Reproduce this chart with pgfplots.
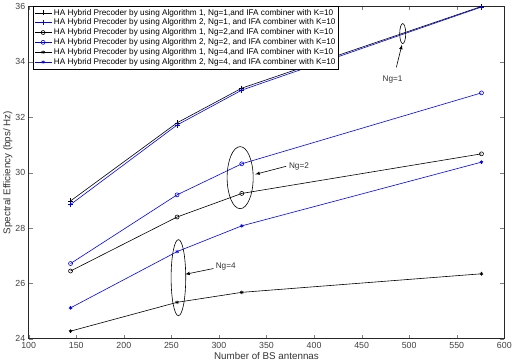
\documentclass[border=0pt]{standalone}
\usepackage{fontspec}
\setmainfont{Liberation Sans}
\usepackage{pgfplots}
\pgfplotsset{compat=1.18}
\begin{document}
\begin{tikzpicture}
\begin{axis}[
  scale only axis, width=475pt, height=332pt,
  xmin=100, xmax=600, ymin=24, ymax=36,
  xtick={100,150,...,600}, ytick={24,26,...,36},
  tick align=inside, tick pos=both,
  major tick length=4pt,
  /pgf/number format/assume math mode=true,
  /pgf/number format/set thousands separator={},
  ticklabel style={font=\fontsize{8.8}{9}\selectfont, text=black!75},
  label style={font=\fontsize{9.8}{10}\selectfont, text=black!80},
  xlabel={Number of BS antennas},
  ylabel={Spectral Efficiency (bps/ Hz)},
  xlabel style={yshift=3pt},
  ylabel style={yshift=-4pt},
  axis line style={line width=0.8pt, black!85},
  every axis plot/.append style={line width=0.6pt},
  legend style={at={(rel axis cs:0.009,1.002)}, anchor=north west,
    font=\fontsize{8.2}{9}\selectfont, draw=black, line width=0.6pt,
    inner sep=1pt, row sep=-1.6pt},
  legend cell align=left,
  clip=false,
]
\addplot[black, mark=+, mark size=2.5pt] coordinates {(144,28.98) (256,31.80) (324,33.05) (576,36.00)};
\addlegendentry{HA Hybrid Precoder by using Algorithm 1, Ng=1,and IFA combiner with K=10}
\addplot[blue, mark=+, mark size=2.5pt] coordinates {(144,28.85) (256,31.72) (324,32.98) (576,35.98)};
\addlegendentry{HA Hybrid Precoder by using Algorithm 2, Ng=1, and IFA combiner with K=10}
\addplot[black, mark=o, mark size=2pt] coordinates {(144,26.45) (256,28.40) (324,29.25) (576,30.68)};
\addlegendentry{HA Hybrid Precoder by using Algorithm 1, Ng=2,and IFA combiner with K=10}
\addplot[blue, mark=o, mark size=2pt] coordinates {(144,26.72) (256,29.20) (324,30.32) (576,32.88)};
\addlegendentry{HA Hybrid Precoder by using Algorithm 2, Ng=2, and IFA combiner with K=10}
\addplot[black, mark=asterisk, mark size=1.8pt] coordinates {(144,24.28) (256,25.32) (324,25.68) (576,26.35)};
\addlegendentry{HA Hybrid Precoder by using Algorithm 1, Ng=4,and IFA combiner with K=10}
\addplot[blue, mark=asterisk, mark size=1.8pt] coordinates {(144,25.12) (256,27.15) (324,28.08) (576,30.38)};
\addlegendentry{HA Hybrid Precoder by using Algorithm 2, Ng=4, and IFA combiner with K=10}
% annotations
\draw[black, line width=0.6pt] (axis cs:493.2,35.02) ellipse [x radius=3pt, y radius=10pt];
\draw[black, line width=0.6pt, -latex] (axis cs:486.5,33.8) -- (axis cs:492.4,34.62);
\node[font=\fontsize{8.2}{9}\selectfont, text=black!80] at (axis cs:482.6,33.36) {Ng=1};
\draw[black, line width=0.6pt] (axis cs:322.3,29.82) ellipse [x radius=13pt, y radius=31pt];
\draw[black, line width=0.6pt, -latex] (axis cs:370.7,30.23) -- (axis cs:338.1,29.94);
\node[font=\fontsize{8.2}{9}\selectfont, text=black!80, anchor=west] at (axis cs:370,30.23) {Ng=2};
\draw[black, line width=0.6pt] (axis cs:257.4,26.21) ellipse [x radius=7.3pt, y radius=38pt];
\draw[black, line width=0.6pt, -latex] (axis cs:294.2,26.54) -- (axis cs:264.4,26.33);
\node[font=\fontsize{8.2}{9}\selectfont, text=black!80, anchor=west] at (axis cs:293,26.60) {Ng=4};
\end{axis}
\end{tikzpicture}
\end{document}
